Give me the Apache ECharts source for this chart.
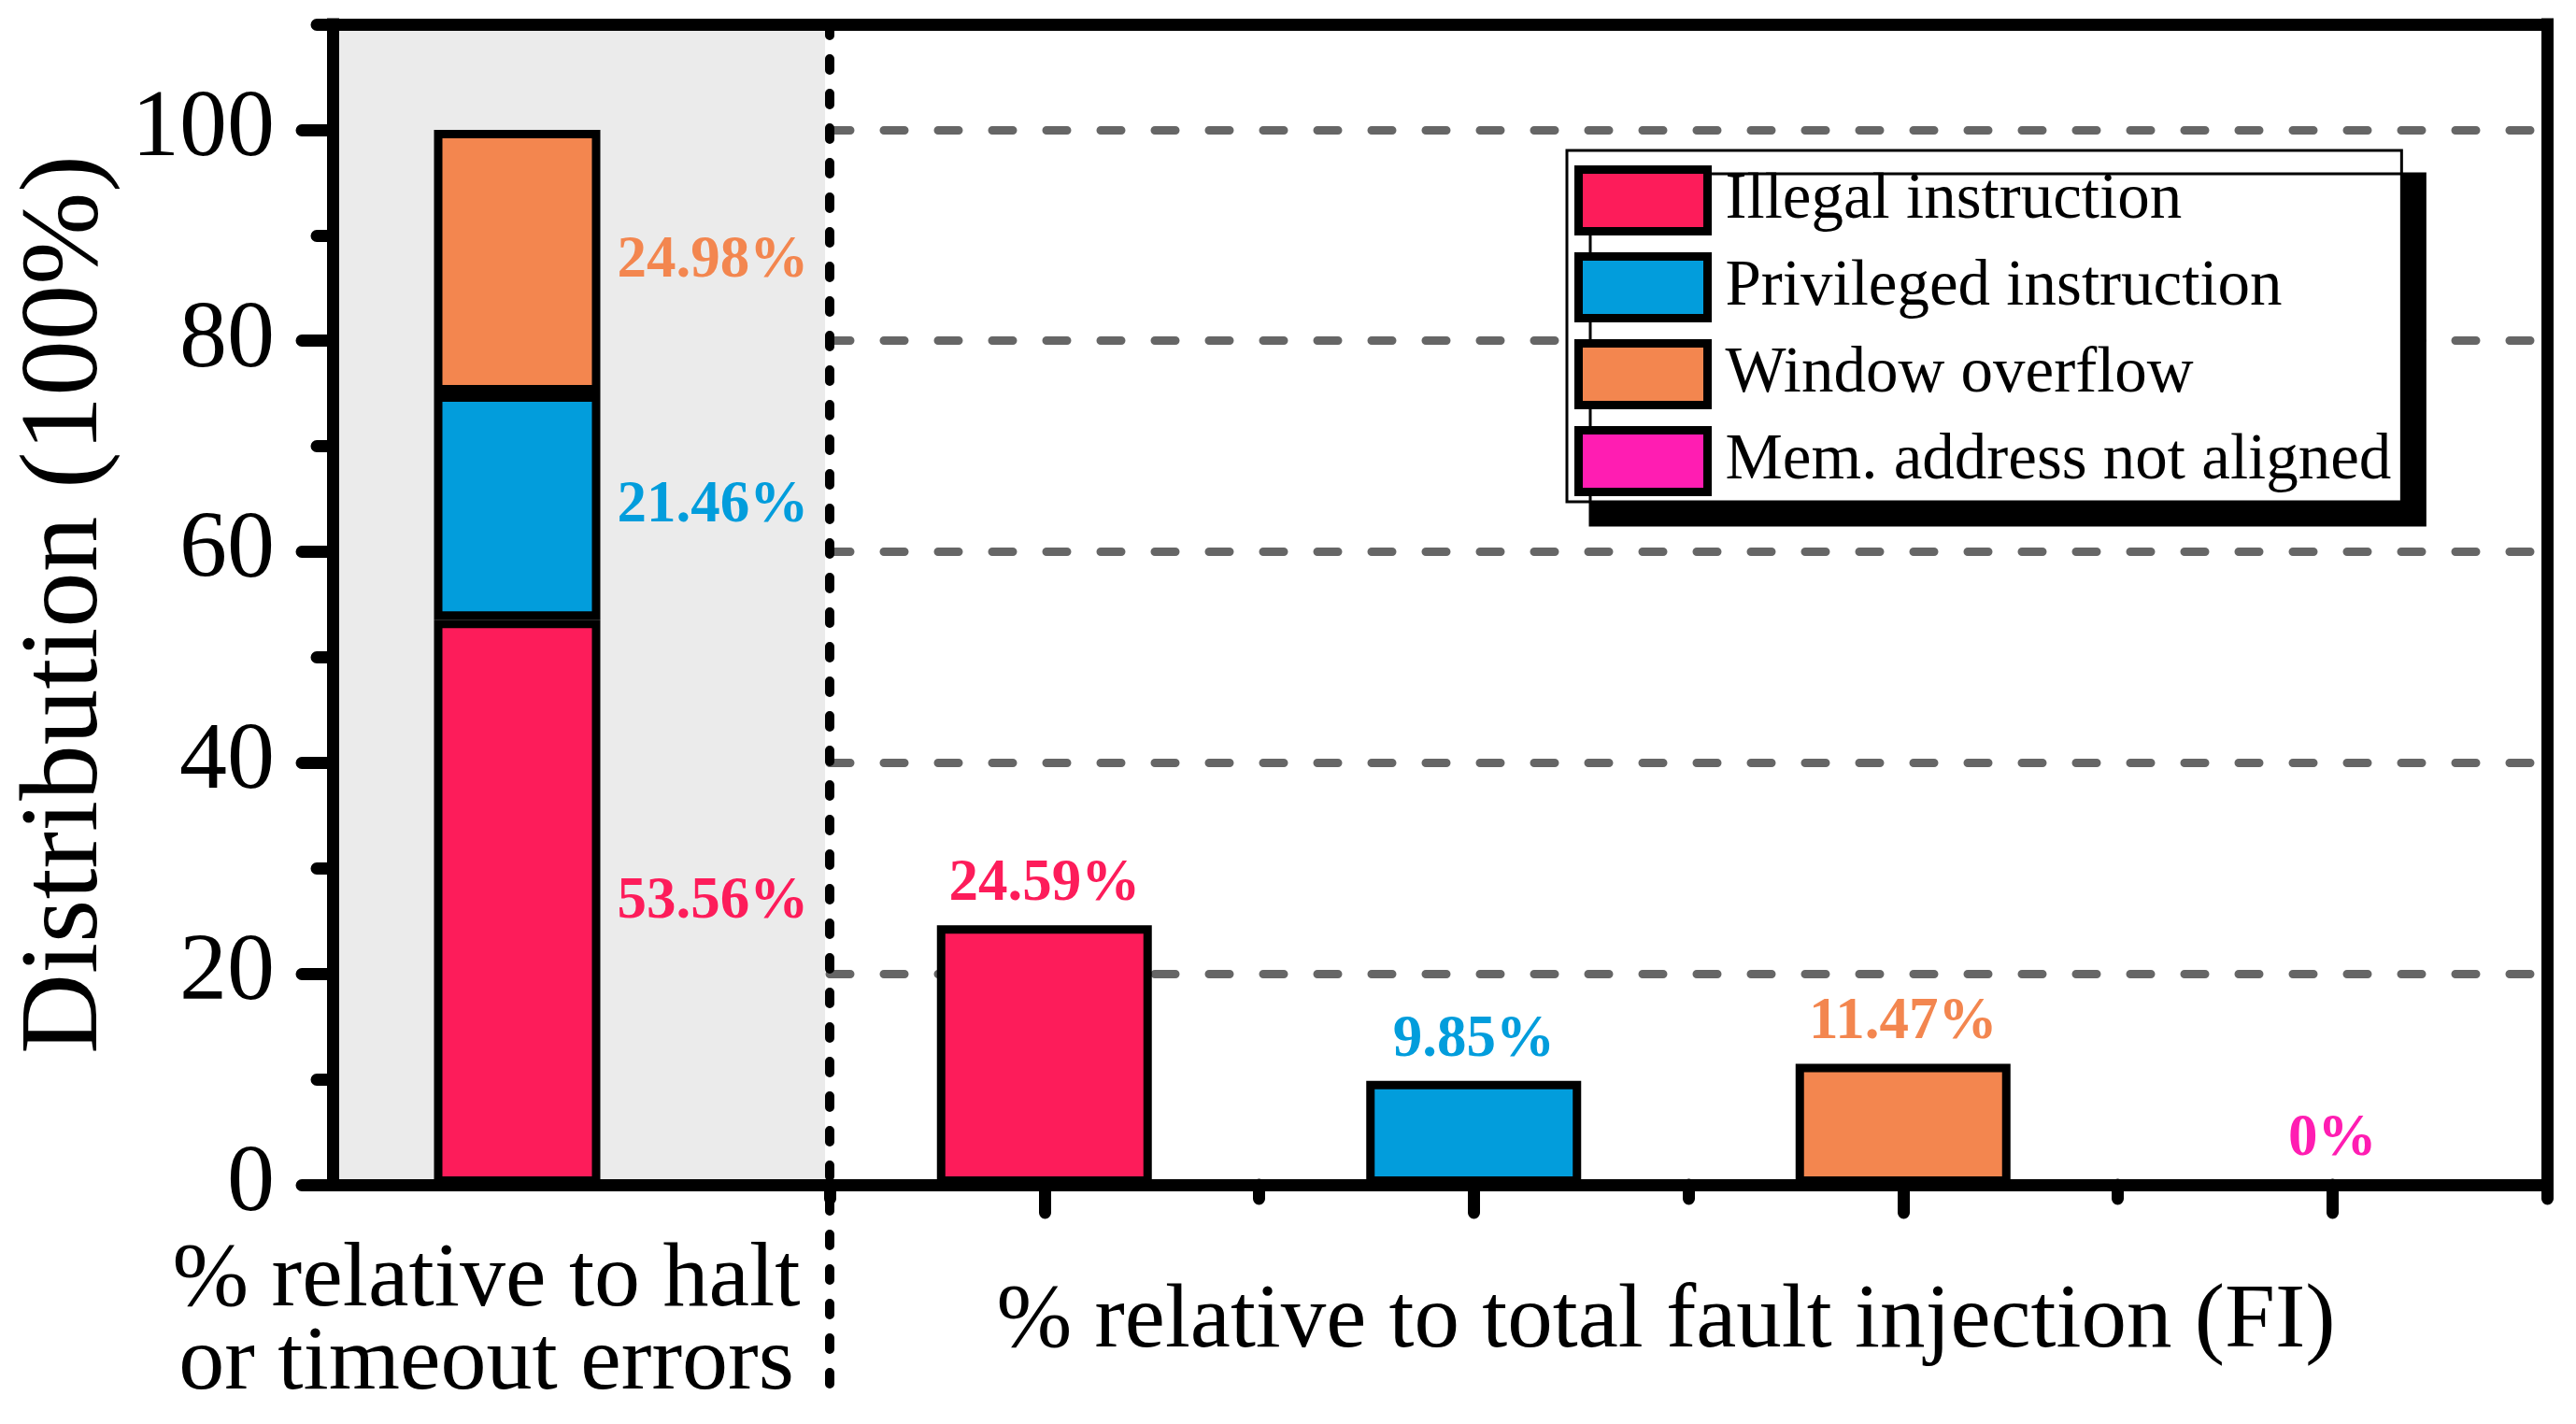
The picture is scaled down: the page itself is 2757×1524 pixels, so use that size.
<!DOCTYPE html>
<html><head><meta charset="utf-8">
<script src="https://cdn.jsdelivr.net/npm/echarts@6/dist/echarts.min.js"></script>
<style>html,body{margin:0;padding:0;background:#fff}#c{width:2757px;height:1524px}</style>
</head><body><div id="c"></div>
<script>
// ---- data ----
const seriesNames = ['Illegal instruction', 'Privileged instruction', 'Window overflow', 'Mem. address not aligned'];
const seriesColors = ['#FD1C5A', '#029DDC', '#F3864F', '#FF1DB2'];
const haltCategory = ['% relative to halt\nor timeout errors'];
const haltValues = [53.56, 21.46, 24.98];
const fiCategories = ['Illegal instruction', 'Privileged instruction', 'Window overflow', 'Mem. address not aligned'];
const fiValues = [24.59, 9.85, 11.47, 0];
const yMajorTicks = [0, 20, 40, 60, 80, 100];
const yMinorTicks = [10, 30, 50, 70, 90, 110];
const yMin = 0, yMax = 110, yGridInterval = 20;
const fiAxisName = '% relative to total fault injection (FI)';
const yAxisName = 'Distribution (100%)';

// ---- layout / style ----
const FONT = '"Liberation Serif", "Times New Roman", serif';
const L = 356, D = 883, DX = 888, R = 2726, T = 26, B = 1268;
const AX = { color: '#000', width: 13, cap: 'square' };

const chart = echarts.init(document.getElementById('c'), null, { renderer: 'canvas' });

const series = [];
haltValues.forEach((v, i) => {
  series.push({
    type: 'bar', name: seriesNames[i], xAxisIndex: 2, yAxisIndex: 2, stack: 'halt',
    barWidth: 178, data: [v],
    itemStyle: { color: seriesColors[i], borderColor: '#000', borderWidth: 9 },
    label: { show: true, position: 'right', distance: 18, formatter: '{c}%', color: seriesColors[i],
      fontSize: 63, fontWeight: 'bold', fontFamily: FONT }
  });
});
fiValues.forEach((v, i) => {
  series.push({
    type: 'bar', name: seriesNames[i], xAxisIndex: 3, yAxisIndex: 3, stack: 'fi',
    barWidth: 230, data: fiCategories.map((c, j) => (j === i ? v : '-')),
    itemStyle: { color: seriesColors[i], borderColor: '#000', borderWidth: 9 },
    label: { show: true, position: 'top', distance: 12, formatter: '{c}%', color: seriesColors[i],
      fontSize: 63, fontWeight: 'bold', fontFamily: FONT }
  });
});

const option = {
  animation: false,
  backgroundColor: '#fff',
  grid: [
    { left: L, top: T, width: D - L, height: B - T, show: true, backgroundColor: '#ebebeb', borderWidth: 0, outerBoundsMode: 'none' },
    { left: L, top: T, width: 395, height: B - T, outerBoundsMode: 'none' },
    { left: DX, top: T, width: R - DX, height: B - T, outerBoundsMode: 'none' }
  ],
  xAxis: [
    { gridIndex: 0, type: 'category', data: haltCategory, position: 'bottom',
      axisLine: { onZero: false, lineStyle: AX }, axisTick: { show: false }, axisLabel: { show: false } },
    { gridIndex: 0, type: 'category', data: haltCategory, position: 'top',
      axisLine: { onZero: false, lineStyle: AX }, axisTick: { show: false }, axisLabel: { show: false } },
    { gridIndex: 1, type: 'category', data: haltCategory, position: 'bottom',
      axisLine: { show: false }, axisTick: { show: false },
      axisLabel: { show: true, interval: 0, fontSize: 98, lineHeight: 89, color: '#000', fontFamily: FONT,
        margin: 59, padding: [0, 66, 0, 0] } },
    { gridIndex: 2, type: 'category', data: fiCategories, position: 'bottom',
      axisLine: { onZero: false, lineStyle: AX },
      axisTick: { show: true, alignWithLabel: true, interval: 0, length: 30, lineStyle: { color: '#000', width: 13, cap: 'round' } },
      axisLabel: { show: false },
      name: fiAxisName, nameLocation: 'middle', nameGap: 99,
      nameTextStyle: { fontSize: 97, color: '#000', fontFamily: FONT, padding: [0, 48, 0, 0] } },
    { gridIndex: 2, type: 'category', data: fiCategories, position: 'bottom',
      axisLine: { show: false },
      axisTick: { show: true, interval: 0, length: 15, lineStyle: { color: '#000', width: 13, cap: 'round' } },
      axisLabel: { show: false } },
    { gridIndex: 2, type: 'category', data: fiCategories, position: 'top',
      axisLine: { onZero: false, lineStyle: AX }, axisTick: { show: false }, axisLabel: { show: false } }
  ],
  yAxis: [
    { gridIndex: 0, type: 'value', min: yMin, max: yMax, position: 'left',
      axisLine: { show: true, onZero: false, lineStyle: AX },
      axisTick: { show: true, customValues: yMajorTicks, length: 33, lineStyle: { color: '#000', width: 13, cap: 'round' } },
      axisLabel: { show: true, customValues: yMajorTicks, fontSize: 102, margin: 62, color: '#000', fontFamily: FONT },
      splitLine: { show: false },
      name: yAxisName, nameLocation: 'middle', nameGap: 225,
      nameTextStyle: { fontSize: 119, color: '#000', fontFamily: FONT } },
    { gridIndex: 0, type: 'value', min: yMin, max: yMax, position: 'left',
      axisLine: { show: false },
      axisTick: { show: true, customValues: yMinorTicks, length: 17, lineStyle: { color: '#000', width: 13, cap: 'round' } },
      axisLabel: { show: false }, splitLine: { show: false } },
    { gridIndex: 1, type: 'value', min: yMin, max: yMax, show: false, splitLine: { show: false } },
    { gridIndex: 2, type: 'value', min: yMin, max: yMax, interval: yGridInterval, position: 'left',
      axisLine: { show: false }, axisTick: { show: false }, axisLabel: { show: false },
      splitLine: { show: true, showMinLine: false, showMaxLine: false,
        lineStyle: { color: '#666', width: 9, type: [22, 36], cap: 'round' } } },
    { gridIndex: 2, type: 'value', min: yMin, max: yMax, position: 'right',
      axisLine: { show: true, onZero: false, lineStyle: AX }, axisTick: { show: false }, axisLabel: { show: false },
      splitLine: { show: false } }
  ],
  legend: {
    data: seriesNames, orient: 'vertical', left: 1677, top: 161,
    padding: [16, 11, 6, 8], itemWidth: 138, itemHeight: 66, itemGap: 18, icon: 'rect',
    itemStyle: { borderColor: '#000', borderWidth: 9 },
    textStyle: { fontSize: 69, lineHeight: 66, fontFamily: FONT, color: '#000', padding: [8, 0, 0, 14] },
    backgroundColor: '#fff', borderColor: '#000', borderWidth: 3,
    shadowColor: '#000', shadowOffsetX: 25, shadowOffsetY: 25, shadowBlur: 0,
    selectedMode: false
  },
  graphic: [
    { type: 'line', z: 100, shape: { x1: DX, y1: T, x2: DX, y2: 1495 },
      style: { stroke: '#000', lineWidth: 10, lineDash: [12, 25], lineCap: 'round' } }
  ],
  series: series
};
chart.setOption(option);
</script>
</body></html>
